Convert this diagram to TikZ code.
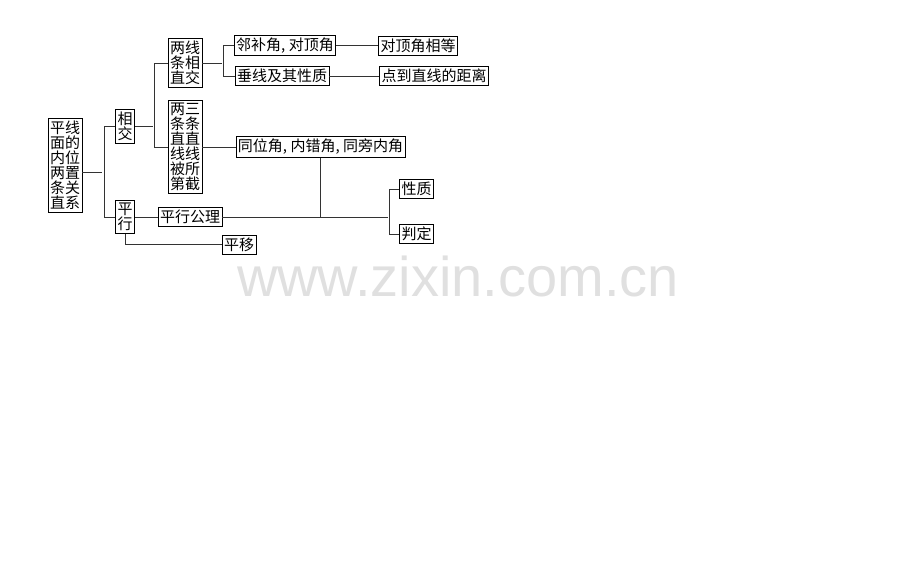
\documentclass[tikz,border=0pt]{standalone}
\usepackage{fontspec}
\usepackage{tikz}
\usetikzlibrary{positioning}
\newfontfamily\cjk{Noto Sans CJK SC}
\newfontfamily\wmfont{Liberation Sans}
\tikzset{
  box/.style={rectangle, draw=black, line width=0.8pt, inner xsep=2pt, inner ysep=2.5pt, align=center, font=\cjk\fontsize{15}{15}\selectfont},
  line/.style={line width=0.8pt, draw=black!80}
}

\begin{document}
\begin{tikzpicture}[node distance=60pt]
        \useasboundingbox (0,0) rectangle (920pt,-575pt);
        % watermark
        \node (wm) [text=black!12, font=\wmfont\fontsize{56}{56}\selectfont, anchor=base, inner sep=0pt] at (458pt,-296pt) {www.zixin.com.cn};

        \node (root) [box] at (65pt,-165.5pt) {平线\\面的\\内位\\两置\\条关\\直系};
        \node (xj) [box, right of=root, yshift=39pt] {相\\交};
        \node (px) [box, right of=root, yshift=-51.5pt] {平\\行};
        \node (lx) [box, right of=xj, yshift=63.5pt] {两线\\条相\\直交};
        \node (sj) [box, right of=xj, yshift=-20.5pt] {两三\\条条\\直直\\线线\\被所\\第截};
        \node (lb) [box, right of=lx, xshift=40pt, yshift=17.5pt] {邻补角, 对顶角};
        \node (dd) [box, right of=lb, xshift=73pt] {对顶角相等};
        \node (cx) [box, below of=lb, xshift=-3pt, yshift=29.5pt] {垂线及其性质};
        \node (jl) [box, right of=cx, xshift=92pt] {点到直线的距离};
        \node (tw) [box, right of=sj, xshift=75.5pt] {同位角, 内错角, 同旁内角};
        \node (gl) [box, right of=px, xshift=5pt] {平行公理};
        \node (xz) [box, right of=gl, xshift=166.5pt, yshift=28pt] {性质};
        \node (pd) [box, below of=xz, yshift=15pt] {判定};
        \node (py) [box, right of=gl, xshift=-11pt, yshift=-27.5pt] {平移};

        \draw [line] ([yshift=-6.5pt]root.east) -- +(20pt,0);
        \draw [line] (xj.west) -- +(-11pt,0) |- (px.west);
        \draw [line] (xj.east) -- +(18pt,0);
        \draw [line] (lx.west) -- +(-13pt,0) |- (sj.west);
        \draw [line] (lx.east) -- +(20pt,0);
        \draw [line] (lb.west) -- +(-10pt,0) |- (cx.west);
        \draw [line] (lb) -- (dd);
        \draw [line] (cx) -- (jl);
        \draw [line] (sj) -- (tw);
        \draw [line] (px) -- (gl);
        \draw [line] (gl.east) -- +(166pt,0);
        \draw [line] (tw.south) -- (tw.south |- gl.east);
        \draw [line] (xz.west) -- +(-10pt,0) |- (pd.west);
        \draw [line] (px.south) |- (py.west);
    \end{tikzpicture}
\end{document}
